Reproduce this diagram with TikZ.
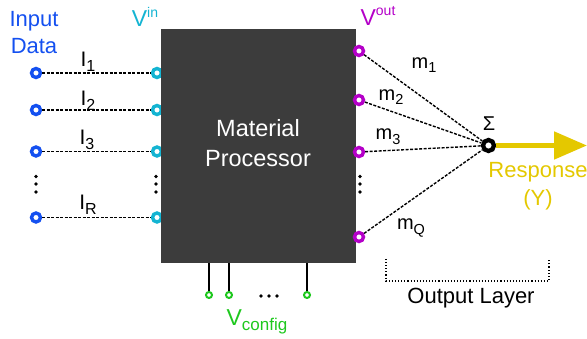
\documentclass[tikz,border=0pt]{standalone}
\usepackage{fontspec}
\setmainfont{Liberation Sans}
\usetikzlibrary{arrows.meta}
\definecolor{inblue}{RGB}{20,80,240}
\definecolor{vincyan}{RGB}{20,180,210}
\definecolor{voutmag}{RGB}{180,0,200}
\definecolor{boxgray}{RGB}{60,60,60}
\definecolor{cfggreen}{RGB}{30,200,30}
\definecolor{respyel}{RGB}{228,200,0}
\newcommand{\mysub}[2]{\raisebox{-0.45ex}{\fontsize{#1}{#1}\selectfont #2}}
\newcommand{\mysup}[1]{\raisebox{0.8ex}{\fontsize{14}{14}\selectfont #1}}
\tikzset{
  pinin/.style={circle, draw=inblue, line width=3.4pt, fill=white, inner sep=0pt, minimum size=9pt},
  pinvin/.style={circle, draw=vincyan, line width=3.4pt, fill=white, inner sep=0pt, minimum size=9pt},
  pinvout/.style={circle, draw=voutmag, line width=3.4pt, fill=white, inner sep=0pt, minimum size=9pt},
  pincfg/.style={circle, draw=cfggreen, line width=2pt, fill=white, inner sep=0pt, minimum size=6pt},
  wire/.style={dashed, dash pattern=on 3pt off 1.5pt, line width=1.4pt},
  lbl/.style={inner sep=0pt, font=\fontsize{21}{21}\selectfont},
  mlbl/.style={inner sep=0pt, font=\fontsize{20}{20}\selectfont},
  dotv/.style={circle, fill=black, inner sep=0pt, minimum size=3.6pt},
}
\begin{document}
\begin{tikzpicture}[x=1pt,y=-1pt]
\useasboundingbox (0,0) rectangle (587,339);
% input pins and vin pins
\foreach \n/\y in {1/73, 2/110, 3/151.5, R/217.5}{
  \node[pinin] (i\n) at (36,\y) {};
  \node[pinvin] (v\n) at (157,\y) {};
}
% box
\node[fill=boxgray, minimum width=195pt, minimum height=234pt, inner sep=0pt, anchor=north west] (box) at (161,29) {};
\node[text=white, align=center, font=\fontsize{23.5}{30}\selectfont] (mp) at (258,143) {Material\\Processor};
% wires in
\foreach \n in {1,2,3,R}{
  \draw[wire] (i\n) -- (v\n);
}
% output pins
\foreach \n/\y in {1/51, 2/100, 3/152, Q/237}{
  \node[pinvout] (o\n) at (359,\y) {};
}
% sum
\node[circle, draw=black, line width=4.3pt, fill=white, inner sep=0pt, minimum size=11pt] (sum) at (488.5,145.5) {};
\foreach \n in {1,2,3,Q}{
  \draw[wire] (o\n) -- (sum);
}
% response arrow
\coordinate (rend) at (587,145.5);
\draw[respyel, line width=5pt, -{Triangle[length=33pt, width=27pt]}] (sum.east) -- (rend);
% dots
\foreach \x in {36,156,360}{
  \node[dotv] (dA\x) at (\x,176.5) {};
  \node[dotv] (dB\x) at (\x,184) {};
  \node[dotv] (dC\x) at (\x,192) {};
}
% config pins
\foreach \n/\x in {1/209, 2/229, 3/307}{
  \node[pincfg] (c\n) at (\x,295) {};
  \coordinate (b\n) at (\x,263);
  \draw[line width=1.9pt] (b\n) -- (c\n);
}
\foreach \x in {261,269,277}{
  \node[dotv] (cd\x) at (\x,296) {};
}
% labels
\node[text=inblue, align=center, font=\fontsize{22}{27}\selectfont] (inlab) at (34,33) {Input\\Data};
\node[inner sep=0pt, font=\fontsize{23}{23}\selectfont, text=vincyan] (vinlab) at (145,17) {V\mysup{in}};
\node[inner sep=0pt, font=\fontsize{23}{23}\selectfont, text=voutmag] (voutlab) at (378,16) {V\mysup{out}};
\node[lbl] (l1) at (88,62) {I\mysub{16}{1}};
\node[lbl] (l2) at (88,101) {I\mysub{16}{2}};
\node[lbl] (l3) at (87,140) {I\mysub{16}{3}};
\node[lbl] (lR) at (88,205) {I\mysub{16}{R}};
\node[mlbl] (m1) at (424,65) {m\mysub{14.5}{1}};
\node[mlbl] (m2) at (391,97) {m\mysub{14.5}{2}};
\node[mlbl] (m3) at (388,137) {m\mysub{14.5}{3}};
\node[mlbl] (mQ) at (411,228) {m\mysub{14.5}{Q}};
\node[mlbl] (sig) at (489,124) {Σ};
\node[text=respyel, align=center, font=\fontsize{22}{28}\selectfont] (resp) at (538,186) {Response\\(Y)};
\node[inner sep=0pt, font=\fontsize{23}{23}\selectfont, text=cfggreen] (vcfg) at (257,322) {V\mysub{17}{config}};
% output layer bracket
\coordinate (ba) at (386,259);
\coordinate (bb) at (386,281);
\coordinate (bc) at (549,281);
\coordinate (bd) at (549,259);
\draw[dotted, line width=1.1pt] (ba) -- (bb) -- (bc) -- (bd);
\node[inner sep=0pt, font=\fontsize{22}{22}\selectfont] (olab) at (471,298) {Output Layer};
\end{tikzpicture}
\end{document}
